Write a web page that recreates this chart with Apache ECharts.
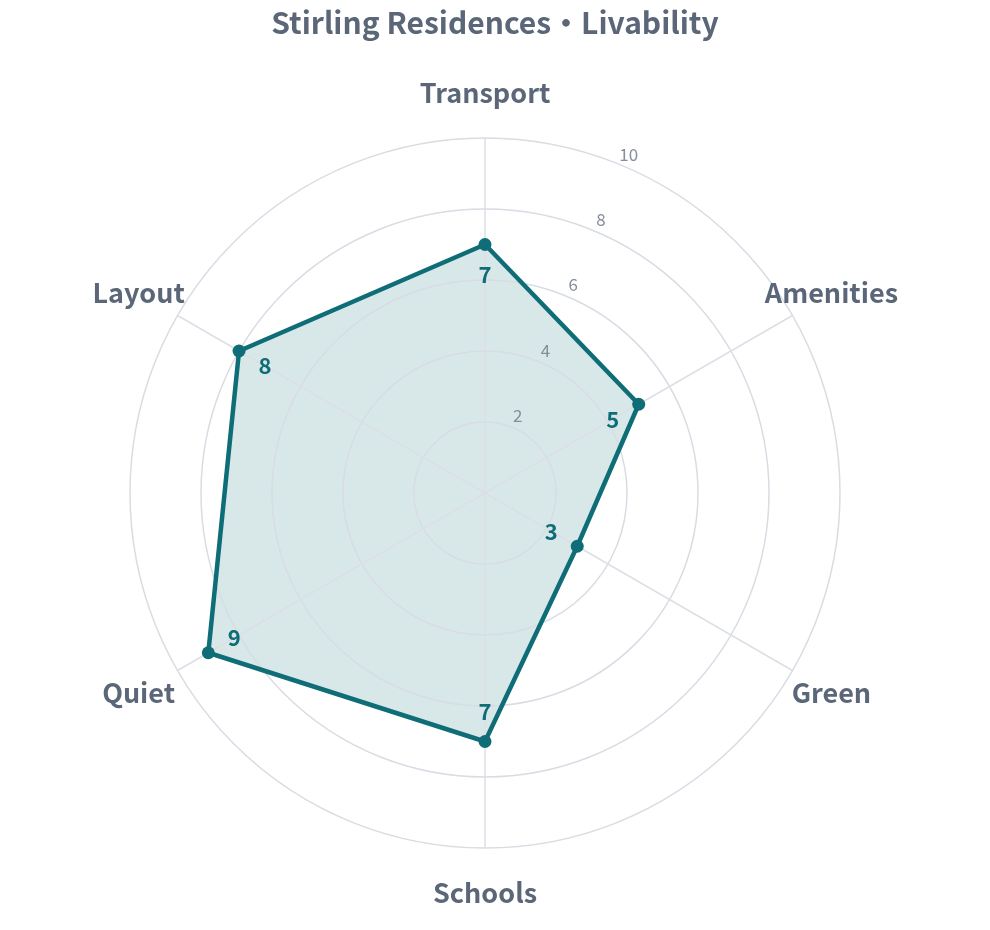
<!DOCTYPE html>
<html>
<head>
<meta charset="utf-8">
<script src="https://cdn.jsdelivr.net/npm/echarts@6/dist/echarts.min.js"></script>
<style>
  html, body { margin: 0; padding: 0; background: #fff; }
  #chart { width: 990px; height: 930px; }
</style>
</head>
<body>
<div id="chart"></div>
<script>
// data, in clockwise reading order starting at the top
const categories = ['Transport', 'Amenities', 'Green', 'Schools', 'Quiet', 'Layout'];
const scores = [7, 5, 3, 7, 9, 8];
const ticks = [2, 4, 6, 8, 10];
const maxScore = 10;

const CENTER = [485, 493];
const RADIUS = 355;
const TEAL = '#0f6d77';
const INK = '#5b6778';
const FONT = '"Noto Sans CJK SC", "Noto Sans", sans-serif';

// echarts radar goes counter-clockwise, so flip the order after the first item
const order = [0].concat(categories.map((_, i) => i).slice(1).reverse());
const radarValues = order.map(i => scores[i]);
const step = 360 / categories.length;

const chart = echarts.init(document.getElementById('chart'));

chart.setOption({
  animation: false,
  title: {
    text: 'Stirling Residences・Livability',
    left: 'center',
    top: 3,
    textStyle: { color: INK, fontSize: 30, fontWeight: 'bold', fontFamily: FONT }
  },
  radar: {
    center: CENTER,
    radius: RADIUS,
    shape: 'circle',
    splitNumber: 5,
    startAngle: 90,
    nameGap: 45,
    z: 2,
    indicator: order.map(i => ({ name: categories[i], max: maxScore, min: 0 })),
    axisName: {
      color: INK, fontSize: 27, fontWeight: 'bold', fontFamily: FONT,
      align: 'center', verticalAlign: 'middle', lineHeight: 24
    },
    splitLine: { lineStyle: { color: '#d8dce3', width: 1.5 } },
    splitArea: { show: false },
    axisLine: { lineStyle: { color: '#dcdfe5', width: 1.5 } },
    axisTick: { show: false },
    axisLabel: { show: false }
  },
  polar: [
    { center: CENTER, radius: RADIUS },
    { center: CENTER, radius: RADIUS }
  ],
  angleAxis: [
    { polarIndex: 0, type: 'value', min: 0, max: 360, startAngle: 90, clockwise: true, show: false },
    { polarIndex: 1, type: 'value', min: 0, max: 360, startAngle: 67, show: false }
  ],
  radiusAxis: [
    { polarIndex: 0, min: 0, max: maxScore, show: false },
    { polarIndex: 1, min: 0, max: maxScore, show: false }
  ],
  series: [
    {
      // fill only, sits under the grid
      type: 'radar',
      symbol: 'none',
      lineStyle: { width: 0, opacity: 0 },
      areaStyle: { color: TEAL, opacity: 0.16 },
      data: [{ value: radarValues, name: 'fill' }],
      silent: true,
      z: 1
    },
    {
      type: 'radar',
      symbol: 'circle',
      symbolSize: 13,
      lineStyle: { color: TEAL, width: 4.5 },
      itemStyle: { color: TEAL },
      data: [{ value: radarValues, name: 'Livability' }],
      z: 3
    },
    {
      // value labels, pulled 30px toward the centre
      type: 'scatter',
      coordinateSystem: 'polar',
      polarIndex: 0,
      symbolSize: 0,
      silent: true,
      z: 4,
      itemStyle: { opacity: 1 },
      data: scores.map((v, i) => {
        const a = (90 - i * step) * Math.PI / 180;
        return {
          value: [v, i * step],
          label: { offset: [-30 * Math.cos(a), 30 * Math.sin(a)] }
        };
      }),
      label: {
        show: true, position: 'inside',
        formatter: p => p.value[0],
        color: TEAL, fontSize: 22, fontWeight: 'bold', fontFamily: FONT
      }
    },
    {
      // ring tick labels
      type: 'scatter',
      coordinateSystem: 'polar',
      polarIndex: 1,
      symbolSize: 0,
      silent: true,
      z: 4,
      itemStyle: { opacity: 1 },
      data: ticks.map(t => [t, 0]),
      label: {
        show: true, position: 'inside', offset: [5, -12],
        formatter: p => p.value[0],
        color: '#858e9a', fontSize: 17, fontFamily: FONT
      }
    }
  ]
});
</script>
</body>
</html>
